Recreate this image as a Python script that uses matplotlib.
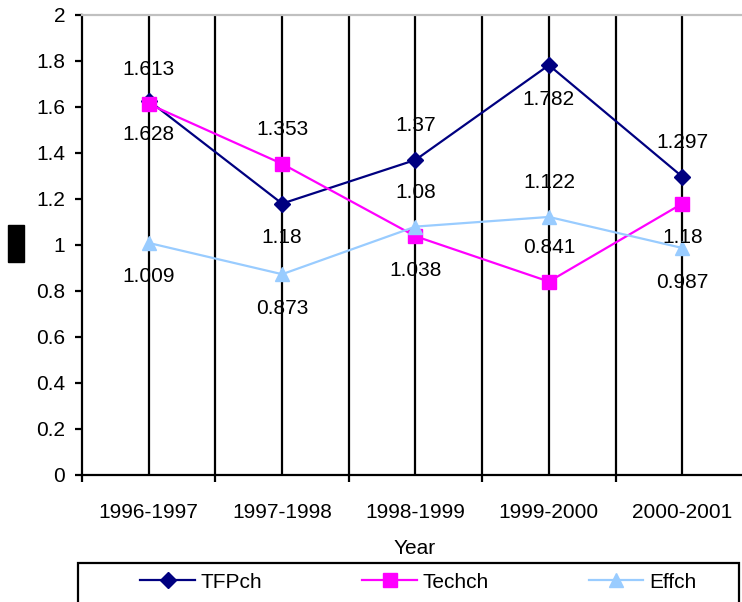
import numpy as np
import matplotlib
matplotlib.use("Agg")
import matplotlib.pyplot as plt
from matplotlib.patches import Rectangle

plt.rcParams['font.family'] = ['Liberation Sans', 'DejaVu Sans']

# === data ===
years = ["1996-1997", "1997-1998", "1998-1999", "1999-2000", "2000-2001"]
tfpch = [1.628, 1.18, 1.37, 1.782, 1.297]
techch = [1.613, 1.353, 1.038, 0.841, 1.18]
effch = [1.009, 0.873, 1.08, 1.122, 0.987]

# label placement per point: 1 = above, -1 = below
tfpch_pos = [-1, -1, 1, -1, 1]
techch_pos = [1, 1, -1, 1, -1]
effch_pos = [-1, -1, 1, 1, -1]

W, H = 742, 602
fig = plt.figure(figsize=(W / 100, H / 100), dpi=100)
ax = fig.add_axes([82 / W, 1 - 475 / H, (749 - 82) / W, (475 - 15) / H])

x = np.arange(len(years))

# vertical lines at categories and between them
for v in np.arange(-0.5, len(years), 0.5)[1:]:
    ax.axvline(v, color="black", lw=1.6, zorder=1)

series = [
    ("TFPch", tfpch, tfpch_pos, "#000080", "D", 8),
    ("Techch", techch, techch_pos, "#FF00FF", "s", 10),
    ("Effch", effch, effch_pos, "#99CCFF", "^", 9.5),
]
handles = []
for name, vals, pos, col, mk, ms in series:
    h, = ax.plot(x, vals, color=col, marker=mk, markersize=ms, lw=1.6,
                 label=name, zorder=3, clip_on=False)
    handles.append(h)
    for xi, v, p in zip(x, vals, pos):
        ax.annotate(f"{v:g}", (xi, v), xytext=(0, 24.5 * p), textcoords="offset points",
                    ha="center", va="center", fontsize=15, zorder=4)

ax.set_xlim(-0.5, len(years) - 0.5)
ax.set_ylim(0, 2)
ax.set_yticks(np.arange(0, 2.01, 0.2))
ax.set_yticklabels([f"{t:g}" for t in np.arange(0, 2.01, 0.2).round(1)])
ax.set_xticks(x)
ax.set_xticklabels(years)
ax.set_xticks(np.arange(-0.5, len(years), 1), minor=True)
ax.tick_params(axis="x", which="major", length=0, pad=20, labelsize=15)
ax.tick_params(axis="x", which="minor", length=5, width=1.6)
ax.tick_params(axis="y", length=5, width=1.6, labelsize=15, pad=7)

for s in ["left", "bottom"]:
    ax.spines[s].set_linewidth(1.6)
ax.spines["top"].set_color("#C0C0C0")
ax.spines["top"].set_linewidth(1.6)
ax.spines["right"].set_visible(False)

fig.text(415 / W, 1 - 548 / H, "Year", ha="center", va="center", fontsize=15)

# y axis label box
fig.add_artist(Rectangle((8 / W, 1 - 262 / H), 16 / W, 37 / H,
                         transform=fig.transFigure, color="black"))

# legend box
fig.add_artist(Rectangle((78 / W, 1 - 625 / H), (739 - 78) / W, 62 / H,
                         transform=fig.transFigure, fill=False, ec="black", lw=1.6))
fig.legend(handles=handles, loc="center left", bbox_to_anchor=(130 / W, 1 - 582 / H),
           ncol=3, frameon=False, fontsize=15, borderpad=0, handlelength=2.6,
           handletextpad=0.3, columnspacing=4.8)

plt.savefig("out.png", dpi=100)
